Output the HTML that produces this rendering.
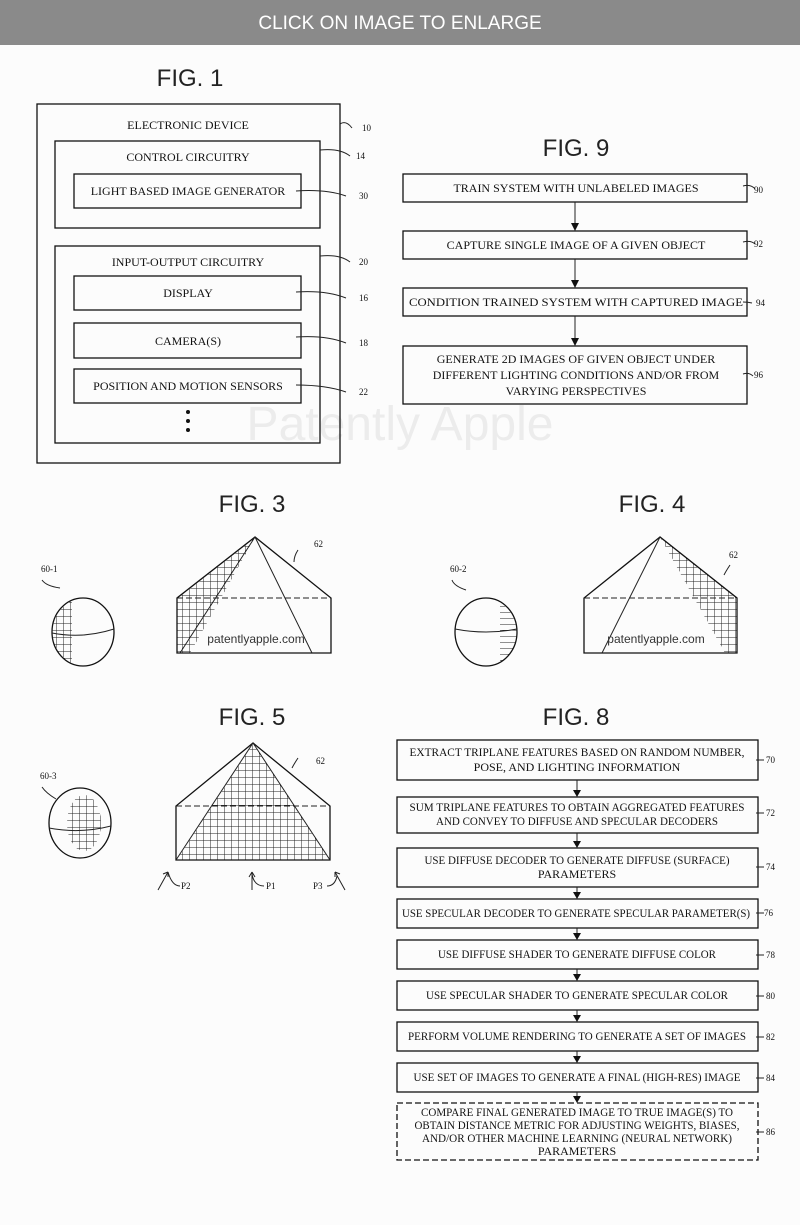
<!DOCTYPE html>
<html><head><meta charset="utf-8"><style>
html,body{margin:0;padding:0;background:#fcfcfc;}
svg{display:block}
.t{font-family:"Liberation Serif",serif;font-size:12px;fill:#111;text-anchor:middle}
.s{font-family:"Liberation Serif",serif;font-size:9px;fill:#111}
.f{font-family:"Liberation Sans",sans-serif;font-size:24px;fill:#222;text-anchor:middle}
.b{fill:none;stroke:#111;stroke-width:1.3}
.l{fill:none;stroke:#222;stroke-width:1}
.ah{fill:#111}
</style></head><body>
<svg width="800" height="1225" viewBox="0 0 800 1225" xmlns="http://www.w3.org/2000/svg">
<defs>
<pattern id="grid" width="7" height="7" patternUnits="userSpaceOnUse"><path d="M0,0H7M0,0V7" stroke="#222" stroke-width="1"/></pattern>
<pattern id="hz" width="8" height="6" patternUnits="userSpaceOnUse"><path d="M0,0H8" stroke="#222" stroke-width="1"/></pattern>
</defs>
<rect x="0" y="0" width="800" height="45" fill="#8a8a8a"/>
<text x="400" y="29" font-family="Liberation Sans,sans-serif" font-size="19" fill="#fff" text-anchor="middle">CLICK ON IMAGE TO ENLARGE</text>

<text x="400" y="440" font-family="Liberation Sans,sans-serif" font-size="48" fill="#ececec" text-anchor="middle">Patently Apple</text>

<!-- FIG 1 -->
<text class="f" x="190" y="86">FIG. 1</text>
<rect class="b" x="37" y="104" width="303" height="359"/>
<text class="t" x="188" y="129">ELECTRONIC DEVICE</text>
<rect class="b" x="55" y="141" width="265" height="87"/>
<text class="t" x="188" y="161">CONTROL CIRCUITRY</text>
<rect class="b" x="74" y="174" width="227" height="34"/>
<text class="t" x="188" y="195">LIGHT BASED IMAGE GENERATOR</text>
<rect class="b" x="55" y="246" width="265" height="197"/>
<text class="t" x="188" y="266">INPUT-OUTPUT CIRCUITRY</text>
<rect class="b" x="74" y="276" width="227" height="34"/>
<text class="t" x="188" y="297">DISPLAY</text>
<rect class="b" x="74" y="323" width="227" height="35"/>
<text class="t" x="188" y="345">CAMERA(S)</text>
<rect class="b" x="74" y="369" width="227" height="34"/>
<text class="t" x="188" y="390">POSITION AND MOTION SENSORS</text>
<circle cx="188" cy="412" r="2" fill="#111"/><circle cx="188" cy="421" r="2" fill="#111"/><circle cx="188" cy="430" r="2" fill="#111"/>
<path class="l" d="M340,124 q6,-4 12,4 M320,150 q20,-2 30,6 M296,191 q30,-2 50,5 M320,256 q20,-2 30,6 M296,292 q30,-2 50,6 M296,337 q30,-2 50,6 M296,385 q30,0 50,7"/>
<text class="s" x="362" y="131">10</text><text class="s" x="356" y="159">14</text><text class="s" x="359" y="199">30</text>
<text class="s" x="359" y="265">20</text><text class="s" x="359" y="301">16</text><text class="s" x="359" y="346">18</text><text class="s" x="359" y="395">22</text>

<!-- FIG 9 -->
<text class="f" x="576" y="156">FIG. 9</text>
<g>
<rect class="b" x="403" y="174" width="344" height="28"/>
<text class="t" x="576" y="192">TRAIN SYSTEM WITH UNLABELED IMAGES</text>
<rect class="b" x="403" y="231" width="344" height="28"/>
<text class="t" x="576" y="249">CAPTURE SINGLE IMAGE OF A GIVEN OBJECT</text>
<rect class="b" x="403" y="288" width="344" height="28"/>
<text class="t" x="576" y="306" textLength="334" lengthAdjust="spacingAndGlyphs">CONDITION TRAINED SYSTEM WITH CAPTURED IMAGE</text>
<rect class="b" x="403" y="346" width="344" height="58"/>
<text class="t" x="576" y="363">GENERATE 2D IMAGES OF GIVEN OBJECT UNDER</text>
<text class="t" x="576" y="379">DIFFERENT LIGHTING CONDITIONS AND/OR FROM</text>
<text class="t" x="576" y="395">VARYING PERSPECTIVES</text>
<path class="l" d="M575,202V224 M575,259V281 M575,316V339"/>
<path class="ah" d="M571,223h8l-4,8z M571,280h8l-4,8z M571,338h8l-4,8z"/>
<path class="l" d="M743,186 q8,-2 12,3 M743,242 q8,-2 12,2 M743,302 q5,0 9,1 M743,374 q6,-2 10,2"/>
<text class="s" x="754" y="193">90</text><text class="s" x="754" y="247">92</text><text class="s" x="756" y="306">94</text><text class="s" x="754" y="378">96</text>
</g>

<text class="f" x="252" y="512">FIG. 3</text>
<text class="f" x="652" y="512">FIG. 4</text>
<text class="f" x="252" y="725">FIG. 5</text>
<text class="f" x="576" y="725">FIG. 8</text>

<!-- FIG 3 -->
<clipPath id="c3"><polygon points="255,537 177,598 177,653 190,653 255,537"/></clipPath>
<rect x="170" y="537" width="90" height="120" fill="url(#grid)" clip-path="url(#c3)"/>
<polygon class="b" points="255,537 177,598 177,653 331,653 331,598"/>
<path class="l" d="M177,598H331" stroke-dasharray="6,3" stroke-width="1.4"/>
<path class="l" d="M255,537L312,653 M255,537L180,653"/>
<text x="256" y="643" font-family="Liberation Sans,sans-serif" font-size="12" fill="#333" text-anchor="middle">patentlyapple.com</text>
<ellipse class="b" cx="83" cy="632" rx="31" ry="34"/>
<path class="l" d="M52,633 q31,6 62,-4"/>
<clipPath id="s1"><rect x="50" y="598" width="22" height="70"/></clipPath>
<ellipse cx="83" cy="632" rx="31" ry="34" fill="url(#grid)" clip-path="url(#s1)"/>
<path class="l" d="M42,580 q4,6 18,8 M298,550 q-4,6 -4,12"/>
<text class="s" x="41" y="572">60-1</text><text class="s" x="314" y="547">62</text>

<!-- FIG 4 -->
<clipPath id="c4"><polygon points="660,537 737,598 737,653 725,653"/></clipPath>
<rect x="655" y="537" width="90" height="120" fill="url(#grid)" clip-path="url(#c4)"/>
<polygon class="b" points="660,537 584,598 584,653 737,653 737,598"/>
<path class="l" d="M584,598H737" stroke-dasharray="6,3" stroke-width="1.4"/>
<path class="l" d="M660,537L602,653"/>
<text x="656" y="643" font-family="Liberation Sans,sans-serif" font-size="12" fill="#333" text-anchor="middle">patentlyapple.com</text>
<ellipse class="b" cx="486" cy="632" rx="31" ry="34"/>
<path class="l" d="M455,629 q31,6 62,0"/>
<clipPath id="s2"><rect x="500" y="598" width="22" height="70"/></clipPath>
<ellipse cx="486" cy="632" rx="31" ry="34" fill="url(#hz)" clip-path="url(#s2)"/>
<path class="l" d="M452,580 q2,6 14,10 M730,565 q-4,6 -6,10"/>
<text class="s" x="450" y="572">60-2</text><text class="s" x="729" y="558">62</text>

<!-- FIG 5 -->
<clipPath id="c5"><polygon points="253,743 176,860 330,860"/></clipPath>
<rect x="170" y="743" width="165" height="120" fill="url(#grid)" clip-path="url(#c5)"/>
<polygon class="b" points="253,743 176,806 176,860 330,860 330,806"/>
<path class="l" d="M176,806H330" stroke-dasharray="6,3" stroke-width="1.4"/>
<path class="l" d="M253,743L176,860 M253,743L330,860"/>
<ellipse class="b" cx="80" cy="823" rx="31" ry="35"/>
<path class="l" d="M49,828 q31,6 62,-2"/>
<clipPath id="s3"><ellipse cx="82" cy="822" rx="17" ry="28"/></clipPath>
<rect x="60" y="790" width="45" height="65" fill="url(#grid)" clip-path="url(#s3)" transform="translate(2,1)"/>
<path class="l" d="M42,787 q4,6 14,12 M298,758 q-4,6 -6,10"/>
<text class="s" x="40" y="779">60-3</text><text class="s" x="316" y="764">62</text>
<path class="l" d="M158,890 L168,872 M168,872 l-5,2 M168,872 l0,5 M168,872 q4,14 12,14 M252,890 V872 M252,872 l-3,5 M252,872 l3,5 M252,874 q2,12 12,12 M345,890 L335,872 M335,872 l0,5 M335,872 l5,2 M337,876 q-2,10 -10,10"/>
<text class="s" x="181" y="889">P2</text><text class="s" x="266" y="889">P1</text><text class="s" x="313" y="889">P3</text>

<!-- FIG 8 -->
<g>
<rect class="b" x="397" y="740" width="361" height="40"/>
<text class="t" x="577" y="756" font-size="11" textLength="335" lengthAdjust="spacingAndGlyphs">EXTRACT TRIPLANE FEATURES BASED ON RANDOM NUMBER,</text>
<text class="t" x="577" y="771" font-size="11">POSE, AND LIGHTING INFORMATION</text>
<rect class="b" x="397" y="797" width="361" height="36"/>
<text class="t" x="577" y="811" font-size="11" textLength="335" lengthAdjust="spacingAndGlyphs">SUM TRIPLANE FEATURES TO OBTAIN AGGREGATED FEATURES</text>
<text class="t" x="577" y="825" font-size="11" textLength="282" lengthAdjust="spacingAndGlyphs">AND CONVEY TO DIFFUSE AND SPECULAR DECODERS</text>
<rect class="b" x="397" y="848" width="361" height="39"/>
<text class="t" x="577" y="864" font-size="11" textLength="305" lengthAdjust="spacingAndGlyphs">USE DIFFUSE DECODER TO GENERATE DIFFUSE (SURFACE)</text>
<text class="t" x="577" y="878" font-size="11">PARAMETERS</text>
<rect class="b" x="397" y="899" width="361" height="29"/>
<text class="t" x="576" y="917" font-size="11" textLength="348" lengthAdjust="spacingAndGlyphs">USE SPECULAR DECODER TO GENERATE SPECULAR PARAMETER(S)</text>
<rect class="b" x="397" y="940" width="361" height="29"/>
<text class="t" x="577" y="958" font-size="11" textLength="278" lengthAdjust="spacingAndGlyphs">USE DIFFUSE SHADER TO GENERATE DIFFUSE COLOR</text>
<rect class="b" x="397" y="981" width="361" height="29"/>
<text class="t" x="577" y="999" font-size="11" textLength="302" lengthAdjust="spacingAndGlyphs">USE SPECULAR SHADER TO GENERATE SPECULAR COLOR</text>
<rect class="b" x="397" y="1022" width="361" height="29"/>
<text class="t" x="577" y="1040" font-size="11" textLength="338" lengthAdjust="spacingAndGlyphs">PERFORM VOLUME RENDERING TO GENERATE A SET OF IMAGES</text>
<rect class="b" x="397" y="1063" width="361" height="29"/>
<text class="t" x="577" y="1081" font-size="11" textLength="327" lengthAdjust="spacingAndGlyphs">USE SET OF IMAGES TO GENERATE A FINAL (HIGH-RES) IMAGE</text>
<rect class="b" x="397" y="1103" width="361" height="57" stroke-dasharray="6,3"/>
<text class="t" x="577" y="1116" font-size="11" textLength="312" lengthAdjust="spacingAndGlyphs">COMPARE FINAL GENERATED IMAGE TO TRUE IMAGE(S) TO</text>
<text class="t" x="577" y="1129" font-size="11" textLength="325" lengthAdjust="spacingAndGlyphs">OBTAIN DISTANCE METRIC FOR ADJUSTING WEIGHTS, BIASES,</text>
<text class="t" x="577" y="1142" font-size="11" textLength="310" lengthAdjust="spacingAndGlyphs">AND/OR OTHER MACHINE LEARNING (NEURAL NETWORK)</text>
<text class="t" x="577" y="1155" font-size="11">PARAMETERS</text>
<path class="l" d="M577,780V791 M577,833V842 M577,887V893 M577,928V934 M577,969V975 M577,1010V1016 M577,1051V1057 M577,1092V1097"/>
<path class="ah" d="M573,790h8l-4,7z M573,841h8l-4,7z M573,892h8l-4,7z M573,933h8l-4,7z M573,974h8l-4,7z M573,1015h8l-4,7z M573,1056h8l-4,7z M573,1096h8l-4,7z"/>
<path class="l" d="M756,760h8 M756,813h8 M756,867h8 M756,913h8 M756,955h8 M756,996h8 M756,1037h8 M756,1078h8 M756,1132h8"/>
<text class="s" x="766" y="763">70</text><text class="s" x="766" y="816">72</text><text class="s" x="766" y="870">74</text>
<text class="s" x="764" y="916">76</text><text class="s" x="766" y="958">78</text><text class="s" x="766" y="999">80</text>
<text class="s" x="766" y="1040">82</text><text class="s" x="766" y="1081">84</text><text class="s" x="766" y="1135">86</text>
</g>
</svg>
</body></html>
